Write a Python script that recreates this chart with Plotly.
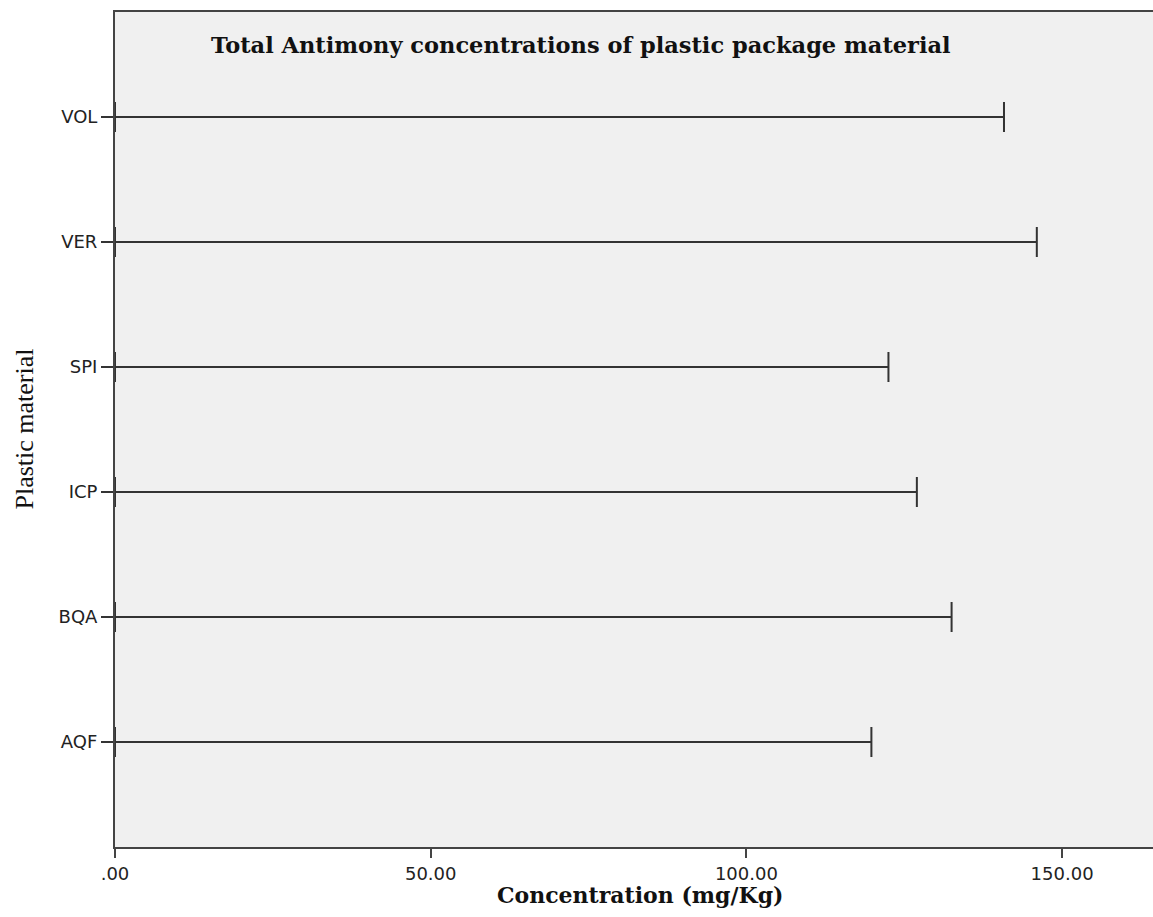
import plotly.graph_objects as go

categories = ["AQF", "BQA", "ICP", "SPI", "VER", "VOL"]
values = [119.8, 132.5, 127.0, 122.5, 146.0, 140.8]
x_tickvals = [0, 50, 100, 150]
x_ticktext = [".00", "50.00", "100.00", "150.00"]

mid = [v / 2 for v in values]
half = [v / 2 for v in values]

fig = go.Figure()
fig.add_trace(go.Scatter(
    x=mid, y=categories, mode="markers",
    marker=dict(size=1, opacity=0),
    error_x=dict(type="data", array=half, arrayminus=half, symmetric=False,
                 color="#333333", thickness=2, width=15),
    cliponaxis=False, showlegend=False, hoverinfo="skip",
))

W, H = 1153, 917
L, R, T, B = 115, 0, 12, 70
pw = W - L - R
ph = H - T - B

fig.update_layout(
    width=W, height=H,
    margin=dict(l=L, r=R, t=T, b=B),
    paper_bgcolor="white", plot_bgcolor="#f0f0f0",
    xaxis=dict(range=[0, 164.4], tickvals=x_tickvals, ticktext=x_ticktext,
               showgrid=False, zeroline=False, showline=True, mirror=True,
               linecolor="#444444", linewidth=2, ticks="outside", ticklen=9,
               tickwidth=2, tickcolor="#444444",
               tickfont=dict(family="DejaVu Sans", size=18, color="#222222")),
    yaxis=dict(type="category", categoryorder="array", categoryarray=categories,
               range=[-0.84, 5.84], showgrid=False, zeroline=False, showline=True,
               linecolor="#444444", linewidth=2, ticks="outside", ticklen=12,
               tickwidth=1.5, tickcolor="#333333",
               tickfont=dict(family="DejaVu Sans", size=18, color="#222222")),
    annotations=[
        dict(text="<b>Total Antimony concentrations of plastic package material</b>",
             xref="paper", yref="paper", x=(581 - L) / pw, y=1 - (45 - T) / ph,
             showarrow=False, xanchor="center", yanchor="middle",
             font=dict(family="DejaVu Serif", size=22.5, color="#111111")),
        dict(text="<b>Concentration (mg/Kg)</b>",
             xref="paper", yref="paper", x=(640 - L) / pw, y=-(895 - (H - B)) / ph,
             showarrow=False, xanchor="center", yanchor="middle",
             font=dict(family="DejaVu Serif", size=22, color="#111111")),
        dict(text="Plastic material", textangle=-90,
             xref="paper", yref="paper", x=(24 - L) / pw, y=0.5,
             showarrow=False, xanchor="center", yanchor="middle",
             font=dict(family="Liberation Serif", size=26, color="#111111")),
    ],
)

fig.write_html("out.html")
